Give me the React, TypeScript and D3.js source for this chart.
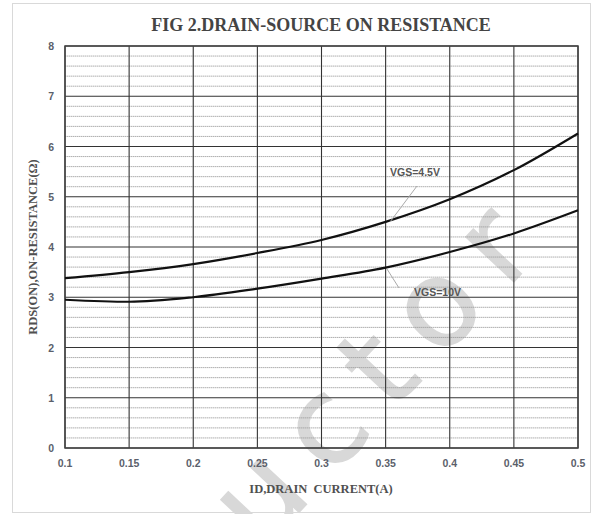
import React from "react";
import * as d3 from "d3";

const xTicks = [0.1, 0.15, 0.2, 0.25, 0.3, 0.35, 0.4, 0.45, 0.5];
const xTickLabels = ["0.1", "0.15", "0.2", "0.25", "0.3", "0.35", "0.4", "0.45", "0.5"];
const yTicks = [0, 1, 2, 3, 4, 5, 6, 7, 8];
const idValues = [0.1, 0.15, 0.2, 0.25, 0.3, 0.35, 0.4, 0.45, 0.5];
const vgs45 = [3.38, 3.5, 3.66, 3.88, 4.14, 4.5, 4.95, 5.53, 6.26];
const vgs10 = [2.95, 2.91, 3.0, 3.17, 3.37, 3.59, 3.9, 4.27, 4.73];

export default function App() {
  const W = 603, H = 514;
  const x = d3.scaleLinear().domain([0.1, 0.5]).range([65, 578]);
  const y = d3.scaleLinear().domain([0, 8]).range([448, 46]);
  const minor = d3.range(0, 8.0001, 0.2).filter((v) => Math.abs(v - Math.round(v)) > 1e-6);
  const line = d3
    .line<number>()
    .x((_, i) => x(idValues[i]))
    .y((d) => y(d))
    .curve(d3.curveMonotoneX);
  const tickFont = "'Liberation Sans', Arial, sans-serif";
  const serif = "'Liberation Serif', 'Times New Roman', serif";
  return (
    <svg width={W} height={H} style={{ position: "absolute", left: 0, top: 0, background: "#fff" }}>
      <rect x={12.5} y={3.5} width={578} height={509} fill="#fff" stroke="#d9d9d9" />
      <text transform="translate(262,552) rotate(-47)" fontFamily="'DejaVu Sans', sans-serif" fontSize={120} letterSpacing={24} fill="#d8d8d8" stroke="#d8d8d8" strokeWidth={1.5}>
        uctor
      </text>
      <text x={321} y={31} textAnchor="middle" fontFamily={serif} fontWeight="bold" fontSize={18} fill="#444">
        FIG 2.DRAIN-SOURCE ON RESISTANCE
      </text>
      {minor.map((v) => (
        <line key={"m" + v} x1={x(0.1)} x2={x(0.5)} y1={y(v)} y2={y(v)} stroke="#9a9a9a" strokeWidth={0.8} strokeDasharray="1.5 0.5" />
      ))}
      {yTicks.map((v) => (
        <line key={"y" + v} x1={x(0.1)} x2={x(0.5)} y1={y(v)} y2={y(v)} stroke="#333" strokeWidth={1.1} />
      ))}
      {xTicks.map((v) => (
        <line key={"x" + v} x1={x(v)} x2={x(v)} y1={y(0)} y2={y(8)} stroke="#333" strokeWidth={1.1} />
      ))}
      <rect x={x(0.1)} y={y(8)} width={x(0.5) - x(0.1)} height={y(0) - y(8)} fill="none" stroke="#444" strokeWidth={1.5} />
      <path d={line(vgs45) || ""} fill="none" stroke="#111" strokeWidth={2.2} />
      <path d={line(vgs10) || ""} fill="none" stroke="#111" strokeWidth={2.2} />
      <line x1={417} y1={186} x2={390} y2={222} stroke="#aaa" strokeWidth={1} />
      <line x1={387} y1={269} x2={399} y2={288} stroke="#aaa" strokeWidth={1} />
      <text x={390} y={176} fontFamily={tickFont} fontWeight="bold" fontSize={10.5} fill="#555">VGS=4.5V</text>
      <text x={414} y={296} fontFamily={tickFont} fontWeight="bold" fontSize={10.5} fill="#555">VGS=10V</text>
      {yTicks.map((v) => (
        <text key={"yl" + v} x={54} y={y(v) + 4} textAnchor="end" fontFamily={tickFont} fontWeight="bold" fontSize={10.5} fill="#5b5f6b">
          {v}
        </text>
      ))}
      {xTicks.map((v, i) => (
        <text key={"xl" + v} x={x(v)} y={467} textAnchor="middle" fontFamily={tickFont} fontWeight="bold" fontSize={10.5} fill="#5b5f6b">
          {xTickLabels[i]}
        </text>
      ))}
      <text x={321} y={493} textAnchor="middle" fontFamily={serif} fontWeight="bold" fontSize={12.5} fill="#505050" xmlSpace="preserve">
        ID,DRAIN  CURRENT(A)
      </text>
      <text transform="translate(37,247) rotate(-90)" textAnchor="middle" fontFamily={serif} fontWeight="bold" fontSize={12.5} fill="#505050">
        RDS(ON),ON-RESISTANCE(Ω)
      </text>
    </svg>
  );
}
